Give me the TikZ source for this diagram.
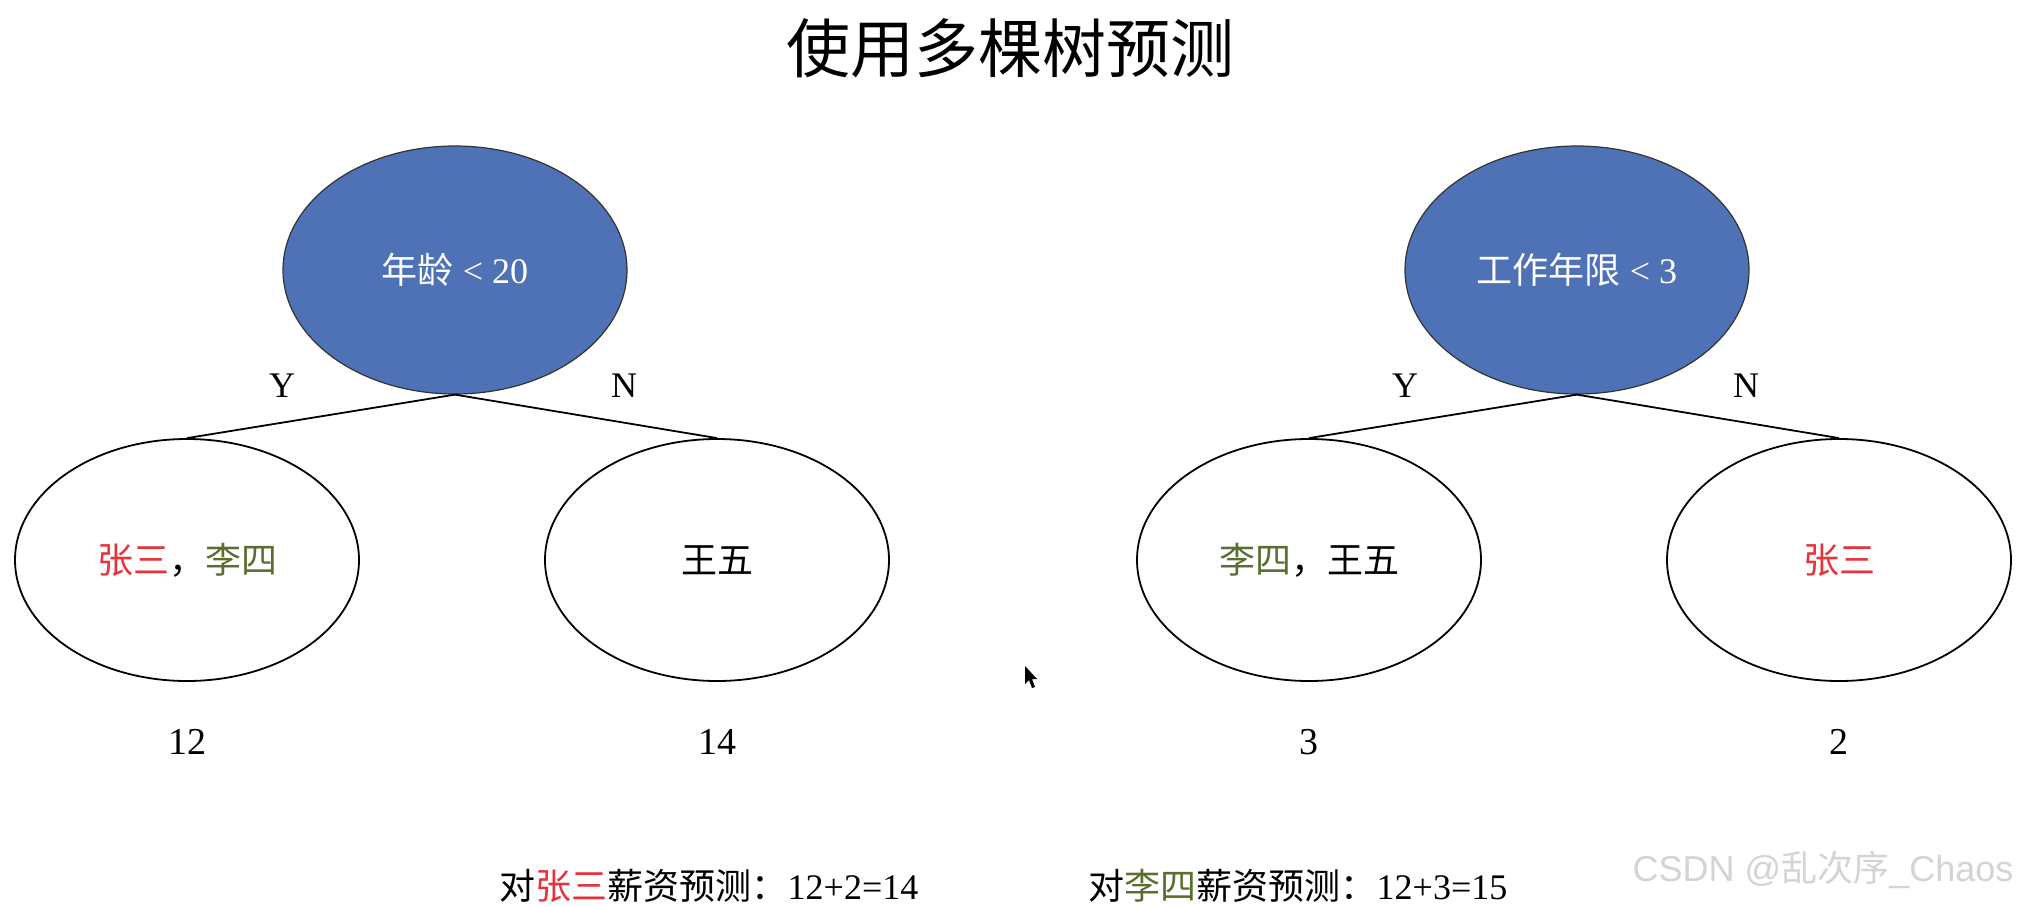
\documentclass[tikz,border=0pt]{standalone}
\usepackage{fontspec}
\setmainfont{Liberation Serif}
\newfontfamily\cjk{Noto Sans CJK SC}
\newfontfamily\wmfont{Liberation Sans}
\usetikzlibrary{shapes.geometric}
\definecolor{zred}{HTML}{E8323A}
\definecolor{lgreen}{HTML}{586F30}
\definecolor{nodeblue}{HTML}{4F71B5}
\definecolor{wmgray}{HTML}{D4D4D4}
\begin{document}
\begin{tikzpicture}[x=1pt,y=-1pt,
  cond/.style={ellipse, draw=black!80, line width=1.2pt, fill=nodeblue,
    minimum width=344pt, minimum height=248pt, inner sep=0pt,
    text=white, font=\fontsize{36}{40}\selectfont},
  leaf/.style={ellipse, draw=black, line width=1.8pt, fill=white,
    minimum width=344pt, minimum height=242pt, inner sep=0pt,
    font=\fontsize{36}{40}\selectfont},
  edge/.style={draw=black, line width=1.8pt},
  lab/.style={font=\fontsize{36}{40}\selectfont, inner sep=0pt},
  val/.style={font=\fontsize{38}{42}\selectfont, inner sep=0pt},
  sumtxt/.style={font=\fontsize{36}{40}\selectfont, inner sep=0pt}]
\useasboundingbox (0,0) rectangle (2026,907);
\fill[white] (0,0) rectangle (2026,907);

% title
\node[font=\cjk\fontsize{64}{70}\selectfont, inner sep=0pt] (title) at (1010,48) {使用多棵树预测};

% left tree
\node[cond] (r1) at (455,270) {{\cjk 年龄} < 20};
\node[leaf] (a1) at (187,560) {\cjk\textcolor{zred}{张三}，\textcolor{lgreen}{李四}};
\node[leaf] (b1) at (717,560) {\cjk 王五};
\draw[edge] (r1.south) -- (a1.north);
\draw[edge] (r1.south) -- (b1.north);
\node[lab] (y1) at (282,386) {Y};
\node[lab] (n1) at (624,386) {N};
\node[val] (v1) at (187,742) {12};
\node[val] (v2) at (717,742) {14};

% right tree
\node[cond] (r2) at (1577,270) {{\cjk 工作年限} < 3};
\node[leaf] (a2) at (1309,560) {\cjk\textcolor{lgreen}{李四}，王五};
\node[leaf] (b2) at (1839,560) {\cjk\textcolor{zred}{张三}};
\draw[edge] (r2.south) -- (a2.north);
\draw[edge] (r2.south) -- (b2.north);
\node[lab] (y2) at (1405,386) {Y};
\node[lab] (n2) at (1746,386) {N};
\node[val] (v3) at (1309,742) {3};
\node[val] (v4) at (1839,742) {2};

% summary lines
\node[sumtxt] (s1) at (709,886) {{\cjk 对\textcolor{zred}{张三}薪资预测：}12+2=14};
\node[sumtxt] (s2) at (1298,886) {{\cjk 对\textcolor{lgreen}{李四}薪资预测：}12+3=15};

% watermark
\node[font=\wmfont\fontsize{36}{40}\selectfont, text=wmgray, inner sep=0pt] (wm) at (1823,870) {CSDN @{\cjk 乱次序}\_Chaos};

% mouse cursor
\fill[black] (1025,666) -- (1025,684) -- (1029,680) -- (1032,688) -- (1035,687) -- (1032,679) -- (1037,679) -- cycle;
\end{tikzpicture}
\end{document}
